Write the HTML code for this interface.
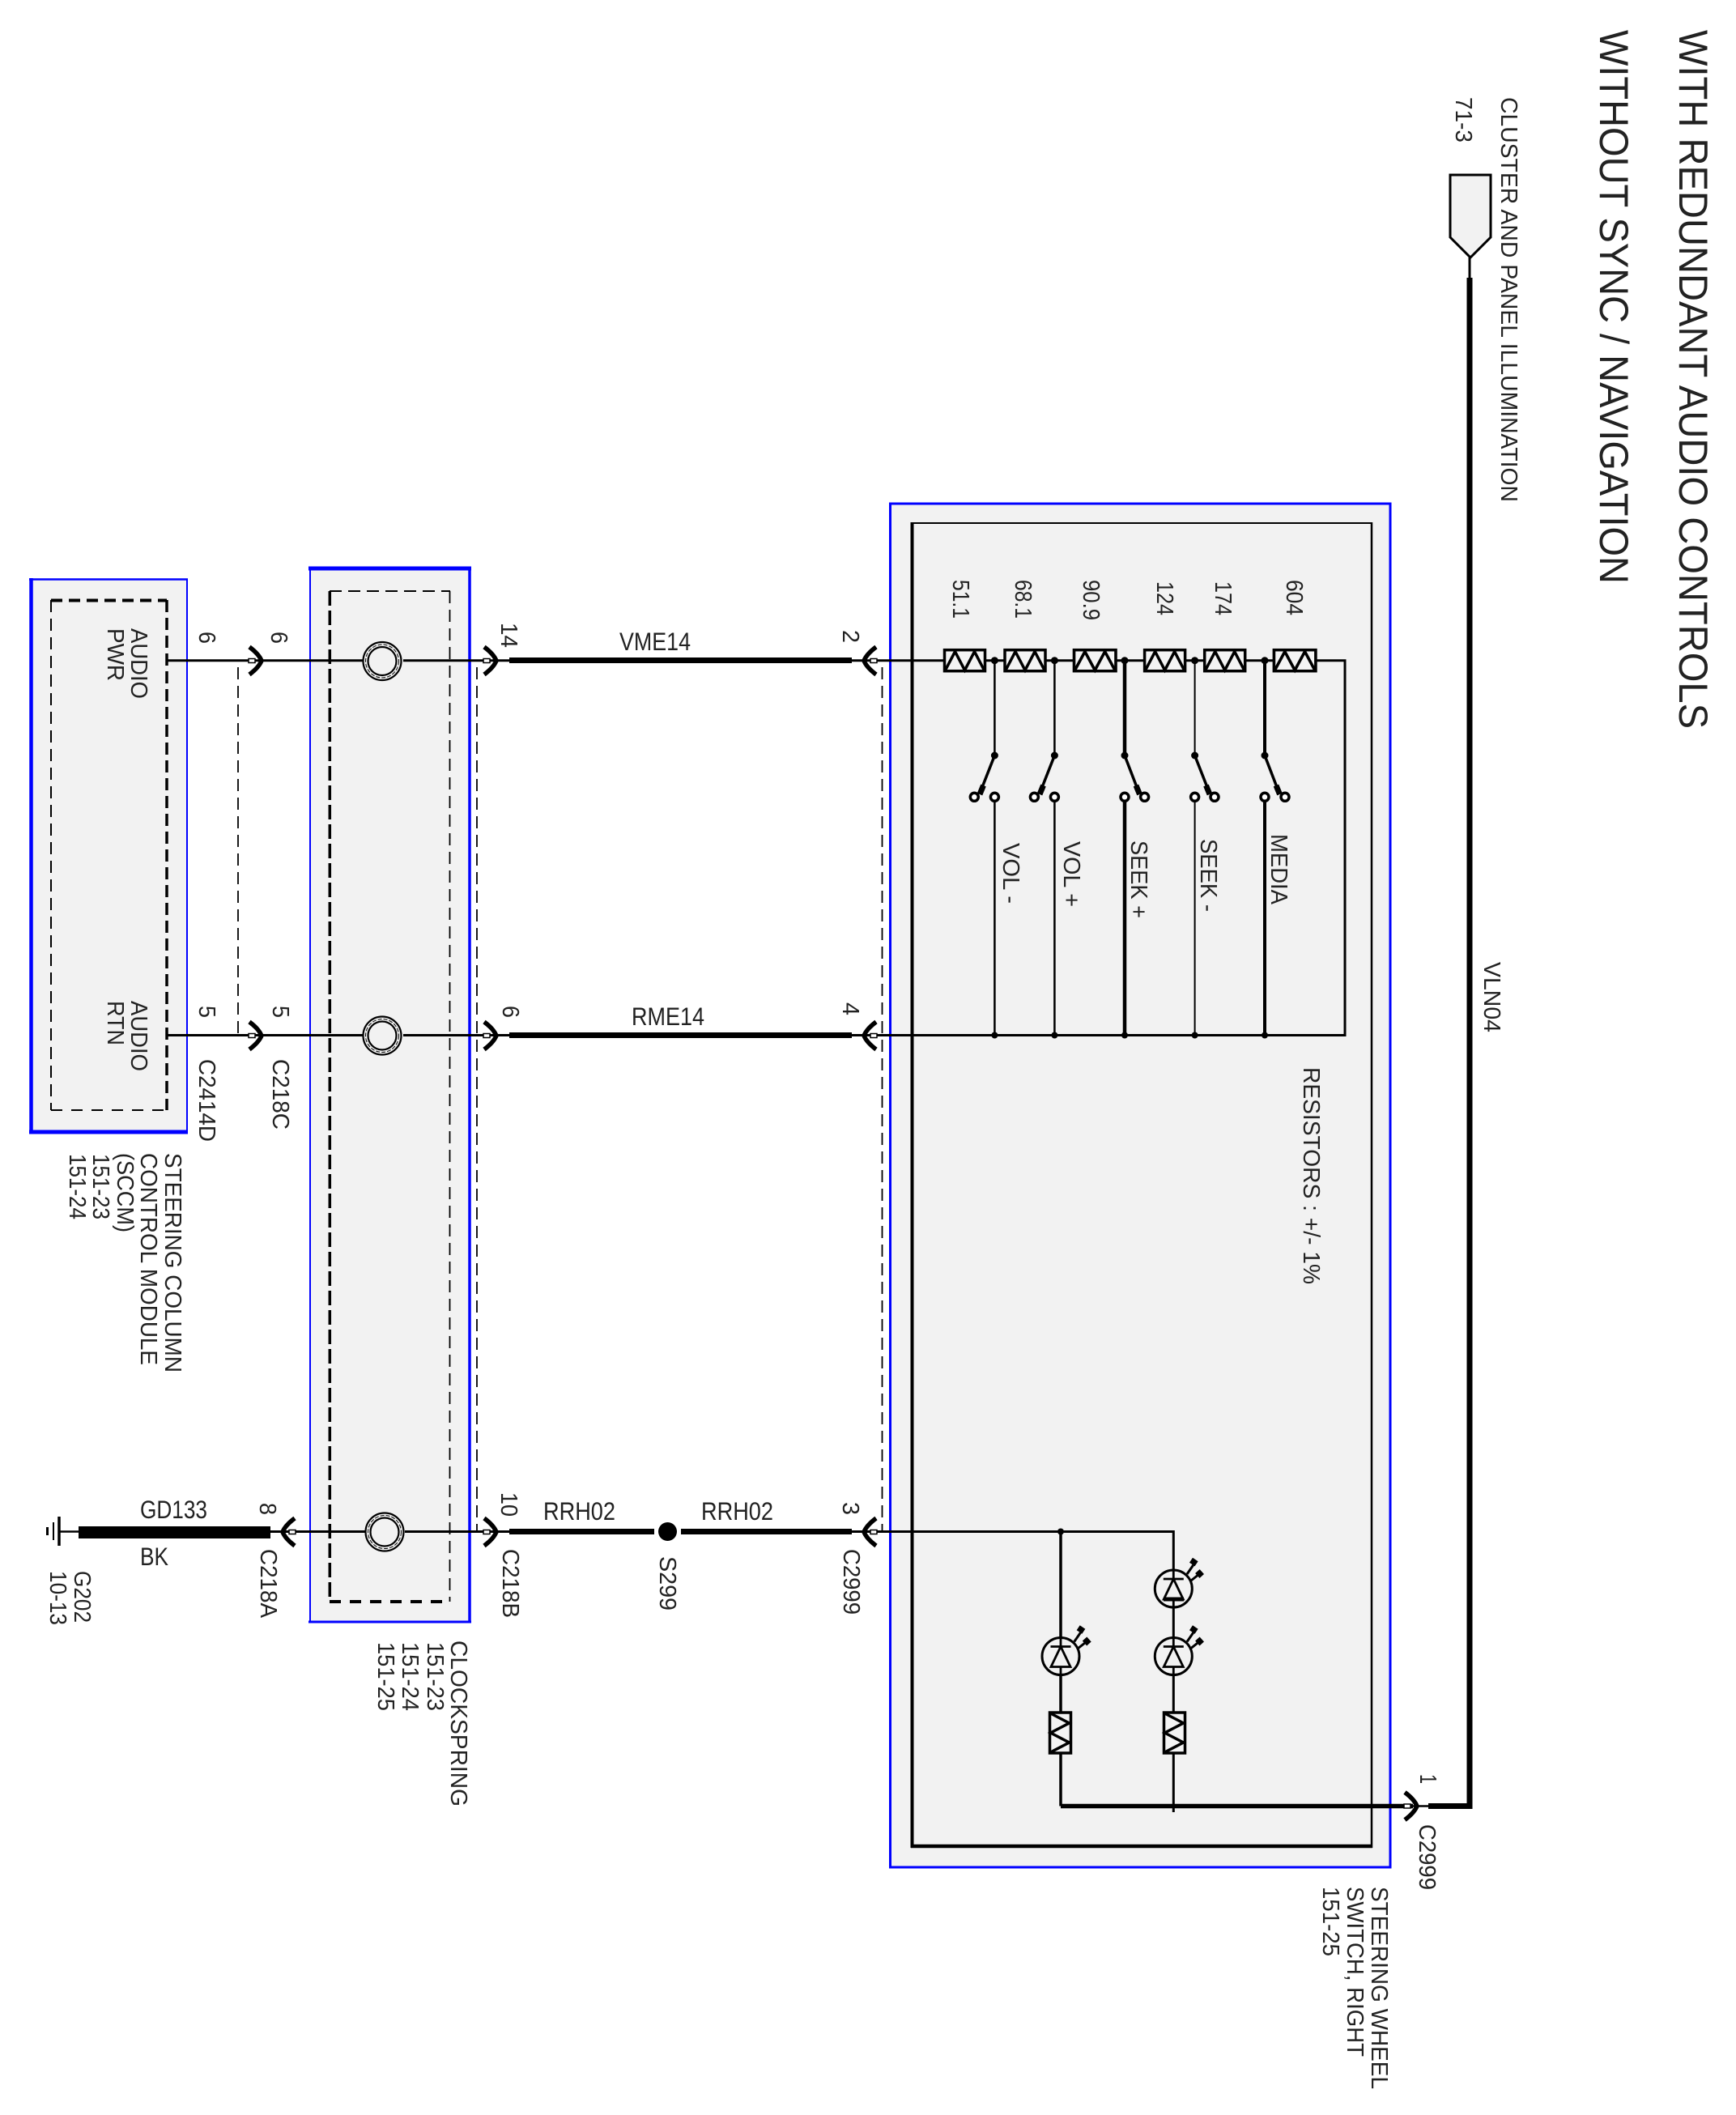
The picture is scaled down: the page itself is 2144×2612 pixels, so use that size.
<!DOCTYPE html>
<html><head><meta charset="utf-8"><style>
html,body{margin:0;padding:0;background:#fff}
svg{display:block}
text{font-family:"Liberation Sans",sans-serif;fill:#222;font-size:29px}
.lab{filter:blur(0.35px)}
.h text{font-size:31.5px}
</style></head><body>
<svg width="2144" height="2612" viewBox="0 0 2144 2612" xmlns="http://www.w3.org/2000/svg">
<defs>
<g id="res"><rect x="0" y="-13" width="50" height="26" fill="#f4f4f4" stroke="#000" stroke-width="3.5"/><path d="M1,12 L13,-11 L25,12 L37,-11 L49,12" fill="none" stroke="#000" stroke-width="3.5"/></g>
<g id="arr"><path d="M-15,-17 C-7,-11 -2,-5 0,0 C-2,5 -7,11 -15,17" fill="none" stroke="#000" stroke-width="5.5"/><rect x="-16" y="-2.5" width="8" height="5" fill="#fff" stroke="#000" stroke-width="1.5"/></g>
<g id="ring"><circle r="23.5" fill="#f2f2f2" stroke="#000" stroke-width="2.2"/><circle r="20.5" fill="none" stroke="#000" stroke-width="1" stroke-dasharray="5 2"/><circle r="17.5" fill="#f2f2f2" stroke="#000" stroke-width="2.2"/></g>
<g id="led"><circle r="23" fill="#f2f2f2" stroke="#000" stroke-width="3"/><path d="M0,-23 V-12 M-12.5,-12 H12.5 M0,-12 L-12,13 H12 Z M0,13 V23" fill="none" stroke="#000" stroke-width="2.8"/><path d="M16.7,-18 L25,-30 M21.7,-10 L31.7,-18" stroke="#000" stroke-width="3" fill="none"/><path d="M23,-30 L27,-36 M29.5,-16 L35,-21" stroke="#000" stroke-width="8" fill="none"/></g>
</defs>

<!-- boxes -->
<rect x="38" y="716" width="193" height="682" fill="#f2f2f2"/>
<g stroke="#00f" fill="none">
<path d="M38.5,714 V1400" stroke-width="4.5"/><path d="M36,1398 H232" stroke-width="5"/><path d="M36,715.5 H232" stroke-width="2.5"/><path d="M231,715 V1400" stroke-width="2"/>
</g>
<rect x="383" y="701" width="197" height="1302" fill="#f2f2f2"/>
<g stroke="#00f" fill="none">
<path d="M383,700 V2004" stroke-width="2"/><path d="M381,702 H582" stroke-width="5"/><path d="M580,700 V2004" stroke-width="3.5"/><path d="M381,2003 H582" stroke-width="3"/>
</g>
<rect x="1099.5" y="622" width="617.5" height="1684" fill="#f2f2f2" stroke="#00f" stroke-width="3"/>
<g stroke="#000" fill="none">
<path d="M1126.5,645 V2282" stroke-width="4"/><path d="M1125,2280 H1695" stroke-width="4.5"/><path d="M1125,646 H1695" stroke-width="2"/><path d="M1694,645 V2282" stroke-width="2.5"/>
</g>

<!-- dashed -->
<g stroke="#000" fill="none">
<path d="M63,741 V1371" stroke-width="2" stroke-dasharray="15 8"/>
<path d="M63,741.5 H206" stroke-width="4" stroke-dasharray="14 8"/>
<path d="M206,741 V1371" stroke-width="3.5" stroke-dasharray="15 7"/>
<path d="M63,1371 H206" stroke-width="2" stroke-dasharray="14 11"/>
<path d="M407,730 H556" stroke-width="2" stroke-dasharray="15 8"/>
<path d="M407.3,730 V1978" stroke-width="3.5" stroke-dasharray="18 6"/>
<path d="M555.5,730 V1978" stroke-width="1.8" stroke-dasharray="15 8"/>
<path d="M407,1978 H556" stroke-width="4" stroke-dasharray="14 11"/>
<path d="M294,824 V1278" stroke-width="1.8" stroke-dasharray="15 8"/>
<path d="M589,824 V1891" stroke-width="1.8" stroke-dasharray="15 8"/>
<path d="M1089.5,824 V1891" stroke-width="1.8" stroke-dasharray="15 8"/>
</g>

<!-- wires -->
<g stroke="#000" fill="none">
<path d="M206,815.7 H448 M498,815.7 H629" stroke-width="3"/>
<path d="M206,1278.5 H448 M498,1278.5 H629" stroke-width="3"/>
<path d="M334,1891.5 H451 M500,1891.5 H629" stroke-width="3"/>
<path d="M629,815.5 H1052 M629,1278.5 H1052 M629,1891.5 H808 M841,1891.5 H1052" stroke-width="7"/>
<path d="M97,1892.5 H334" stroke-width="15"/>
<path d="M73,1891.5 H97" stroke-width="2.5"/>
<path d="M73,1873 V1909" stroke-width="3.5"/><path d="M66,1880 V1902" stroke-width="2"/><path d="M58.5,1886 V1896" stroke-width="3"/>
<path d="M1052,815.7 H1166 M1217,815.7 H1241 M1291,815.7 H1326 M1378,815.7 H1414 M1464,815.7 H1488 M1538,815.7 H1573 M1625,815.7 H1661 V1278.5 H1052" stroke-width="3"/>
<path d="M1052,1891.5 H1449.3 V2238" stroke-width="3"/>
<path d="M1310,1891.5 V2230.5" stroke-width="3.5"/>
<path d="M1310,2230.5 H1745" stroke-width="5.5"/>
<path d="M1764,2230.5 H1815 V343" stroke-width="7"/>
<path d="M1745,2230.5 H1764" stroke-width="2.5"/>
<path d="M1815,318 V343" stroke-width="3"/>
<path d="M1228.4,815 V932 M1228.4,984 V1278" stroke-width="2.5"/>
<path d="M1302.4,815 V932 M1302.4,984 V1278" stroke-width="2.5"/>
<path d="M1389,815 V932 M1389,984 V1278" stroke-width="4.5"/>
<path d="M1475.6,815 V932 M1475.6,984 V1278" stroke-width="2"/>
<path d="M1562,815 V932 M1562,984 V1278" stroke-width="4"/>
<!-- blades -->
<path d="M1228.4,933 L1210,980 M1302.4,933 L1284,980 M1389,933 L1407,980 M1475.6,933 L1494,980 M1562,933 L1580,980" stroke-width="3.5"/>
<path d="M1214.5,970 L1210,981 M1288.5,970 L1284,981 M1403,970 L1407.5,981 M1489.5,970 L1494,981 M1576,970 L1580.5,981" stroke-width="7"/>
</g>
<g fill="#000">
<circle cx="1228.4" cy="815.7" r="4.5"/><circle cx="1302.4" cy="815.7" r="4.5"/><circle cx="1389" cy="815.7" r="4.5"/><circle cx="1475.6" cy="815.7" r="4.5"/><circle cx="1562" cy="815.7" r="4.5"/>
<circle cx="1228.4" cy="1278.5" r="4"/><circle cx="1302.4" cy="1278.5" r="4"/><circle cx="1389" cy="1278.5" r="4"/><circle cx="1475.6" cy="1278.5" r="4"/><circle cx="1562" cy="1278.5" r="4"/>
<circle cx="1228.4" cy="933" r="4.5"/><circle cx="1302.4" cy="933" r="4.5"/><circle cx="1389" cy="933" r="4.5"/><circle cx="1475.6" cy="933" r="4.5"/><circle cx="1562" cy="933" r="4.5"/>
<circle cx="1310" cy="1891.5" r="4"/>
<circle cx="824.5" cy="1891.5" r="11.5"/>
</g>
<g fill="#fff" stroke="#000" stroke-width="3.5">
<circle cx="1203.3" cy="984.3" r="5"/><circle cx="1228.4" cy="984.3" r="5"/>
<circle cx="1277.4" cy="984.3" r="5"/><circle cx="1302.4" cy="984.3" r="5"/>
<circle cx="1389" cy="984.3" r="5"/><circle cx="1413.6" cy="984.3" r="5"/>
<circle cx="1475.6" cy="984.3" r="5"/><circle cx="1500" cy="984.3" r="5"/>
<circle cx="1562" cy="984.3" r="5"/><circle cx="1587" cy="984.3" r="5"/>
</g>

<!-- connector pentagon -->
<path d="M1791,216 H1841 V293 L1816,318 L1791,293 Z" fill="#f2f2f2" stroke="#000" stroke-width="3"/>

<!-- resistors -->
<use href="#res" transform="translate(1166.5,815.7)"/>
<use href="#res" transform="translate(1241,815.7)"/>
<use href="#res" transform="translate(1326.5,815.7) scale(1.03,1)"/>
<use href="#res" transform="translate(1413.6,815.7)"/>
<use href="#res" transform="translate(1487.7,815.7)"/>
<use href="#res" transform="translate(1573.4,815.7) scale(1.03,1)"/>
<use href="#res" transform="translate(1309.5,2115) rotate(90)"/>
<use href="#res" transform="translate(1450.5,2115) rotate(90)"/>

<!-- LEDs -->
<use href="#led" transform="translate(1310,2045.5)"/>
<use href="#led" transform="translate(1449.3,2045.5)"/>
<use href="#led" transform="translate(1449.3,1962)"/>
<path d="M1437,1975 H1462" stroke="#000" stroke-width="5"/>

<!-- rings -->
<use href="#ring" transform="translate(472,816.5)"/>
<use href="#ring" transform="translate(472,1279)"/>
<use href="#ring" transform="translate(475,1892)"/>

<!-- arrows -->
<use href="#arr" transform="translate(323,816)"/>
<use href="#arr" transform="translate(323,1279)"/>
<use href="#arr" transform="translate(613,816)"/>
<use href="#arr" transform="translate(613,1279)"/>
<use href="#arr" transform="translate(613,1892)"/>
<use href="#arr" transform="translate(349,1892) scale(-1,1)"/>
<use href="#arr" transform="translate(1067,816) scale(-1,1)"/>
<use href="#arr" transform="translate(1067,1279) scale(-1,1)"/>
<use href="#arr" transform="translate(1067,1892) scale(-1,1)"/>
<use href="#arr" transform="translate(1750,2230.5)"/>

<!-- horizontal labels -->
<g class="lab h">
<text x="765" y="803" textLength="88" lengthAdjust="spacingAndGlyphs">VME14</text>
<text x="780" y="1266" textLength="90" lengthAdjust="spacingAndGlyphs">RME14</text>
<text x="671" y="1877" textLength="89" lengthAdjust="spacingAndGlyphs">RRH02</text>
<text x="866" y="1877" textLength="89" lengthAdjust="spacingAndGlyphs">RRH02</text>
<text x="173" y="1875" textLength="83" lengthAdjust="spacingAndGlyphs">GD133</text>
<text x="173" y="1933" textLength="35" lengthAdjust="spacingAndGlyphs">BK</text>
</g>

<!-- rotated labels -->
<g class="lab">
<text transform="translate(2074,37) rotate(90)" style="font-size:50px" textLength="863" lengthAdjust="spacingAndGlyphs">WITH REDUNDANT AUDIO CONTROLS</text>
<text transform="translate(1976,37) rotate(90)" style="font-size:50px" textLength="684" lengthAdjust="spacingAndGlyphs">WITHOUT SYNC / NAVIGATION</text>
<text transform="translate(1854,120) rotate(90)" textLength="500" lengthAdjust="spacingAndGlyphs">CLUSTER AND PANEL ILLUMINATION</text>
<text transform="translate(1798,120) rotate(90)" textLength="56" lengthAdjust="spacingAndGlyphs">71-3</text>
<text transform="translate(1833,1188) rotate(90)" textLength="87" lengthAdjust="spacingAndGlyphs">VLN04</text>

<text transform="translate(162,776) rotate(90)" textLength="87" lengthAdjust="spacingAndGlyphs">AUDIO</text>
<text transform="translate(133,776) rotate(90)" textLength="65" lengthAdjust="spacingAndGlyphs">PWR</text>
<text transform="translate(162,1236) rotate(90)" textLength="87" lengthAdjust="spacingAndGlyphs">AUDIO</text>
<text transform="translate(133,1236) rotate(90)" textLength="55" lengthAdjust="spacingAndGlyphs">RTN</text>

<text transform="translate(246,780) rotate(90)" textLength="15" lengthAdjust="spacingAndGlyphs">6</text>
<text transform="translate(335,780) rotate(90)" textLength="15" lengthAdjust="spacingAndGlyphs">6</text>
<text transform="translate(619,769) rotate(90)" textLength="31" lengthAdjust="spacingAndGlyphs">14</text>
<text transform="translate(246,1242) rotate(90)" textLength="15" lengthAdjust="spacingAndGlyphs">5</text>
<text transform="translate(337,1242) rotate(90)" textLength="15" lengthAdjust="spacingAndGlyphs">5</text>
<text transform="translate(621,1242) rotate(90)" textLength="15" lengthAdjust="spacingAndGlyphs">6</text>
<text transform="translate(1041,778) rotate(90)" textLength="16" lengthAdjust="spacingAndGlyphs">2</text>
<text transform="translate(1041,1238) rotate(90)" textLength="16" lengthAdjust="spacingAndGlyphs">4</text>
<text transform="translate(1041,1855) rotate(90)" textLength="16" lengthAdjust="spacingAndGlyphs">3</text>
<text transform="translate(321,1856) rotate(90)" textLength="15" lengthAdjust="spacingAndGlyphs">8</text>
<text transform="translate(619,1843) rotate(90)" textLength="30" lengthAdjust="spacingAndGlyphs">10</text>
<text transform="translate(1754,2191) rotate(90)" textLength="12" lengthAdjust="spacingAndGlyphs">1</text>

<text transform="translate(246,1308) rotate(90)" textLength="102" lengthAdjust="spacingAndGlyphs">C2414D</text>
<text transform="translate(337,1308) rotate(90)" textLength="87" lengthAdjust="spacingAndGlyphs">C218C</text>
<text transform="translate(322,1913) rotate(90)" textLength="85" lengthAdjust="spacingAndGlyphs">C218A</text>
<text transform="translate(621,1913) rotate(90)" textLength="85" lengthAdjust="spacingAndGlyphs">C218B</text>
<text transform="translate(1042,1913) rotate(90)" textLength="81" lengthAdjust="spacingAndGlyphs">C2999</text>
<text transform="translate(1753,2253) rotate(90)" textLength="81" lengthAdjust="spacingAndGlyphs">C2999</text>
<text transform="translate(815,1922) rotate(90)" textLength="67" lengthAdjust="spacingAndGlyphs">S299</text>
<text transform="translate(92,1940) rotate(90)" textLength="64" lengthAdjust="spacingAndGlyphs">G202</text>
<text transform="translate(62,1940) rotate(90)" textLength="67" lengthAdjust="spacingAndGlyphs">10-13</text>

<text transform="translate(204,1424) rotate(90)" textLength="271" lengthAdjust="spacingAndGlyphs">STEERING COLUMN</text>
<text transform="translate(174,1424) rotate(90)" textLength="262" lengthAdjust="spacingAndGlyphs">CONTROL MODULE</text>
<text transform="translate(145,1424) rotate(90)" textLength="98" lengthAdjust="spacingAndGlyphs">(SCCM)</text>
<text transform="translate(115,1425) rotate(90)" textLength="81" lengthAdjust="spacingAndGlyphs">151-23</text>
<text transform="translate(86,1425) rotate(90)" textLength="81" lengthAdjust="spacingAndGlyphs">151-24</text>

<text transform="translate(557,2026) rotate(90)" textLength="205" lengthAdjust="spacingAndGlyphs">CLOCKSPRING</text>
<text transform="translate(528,2028) rotate(90)" textLength="85" lengthAdjust="spacingAndGlyphs">151-23</text>
<text transform="translate(497,2028) rotate(90)" textLength="85" lengthAdjust="spacingAndGlyphs">151-24</text>
<text transform="translate(467,2028) rotate(90)" textLength="85" lengthAdjust="spacingAndGlyphs">151-25</text>

<text transform="translate(1177,716) rotate(90)" textLength="48" lengthAdjust="spacingAndGlyphs">51.1</text>
<text transform="translate(1254,716) rotate(90)" textLength="48" lengthAdjust="spacingAndGlyphs">68.1</text>
<text transform="translate(1338,716) rotate(90)" textLength="50" lengthAdjust="spacingAndGlyphs">90.9</text>
<text transform="translate(1429,718) rotate(90)" textLength="42" lengthAdjust="spacingAndGlyphs">124</text>
<text transform="translate(1501,718) rotate(90)" textLength="42" lengthAdjust="spacingAndGlyphs">174</text>
<text transform="translate(1589,716) rotate(90)" textLength="44" lengthAdjust="spacingAndGlyphs">604</text>

<text transform="translate(1239,1041) rotate(90)" textLength="75" lengthAdjust="spacingAndGlyphs">VOL -</text>
<text transform="translate(1314,1039) rotate(90)" textLength="81" lengthAdjust="spacingAndGlyphs">VOL +</text>
<text transform="translate(1397,1038) rotate(90)" textLength="96" lengthAdjust="spacingAndGlyphs">SEEK +</text>
<text transform="translate(1483,1036) rotate(90)" textLength="90" lengthAdjust="spacingAndGlyphs">SEEK -</text>
<text transform="translate(1570,1030) rotate(90)" textLength="87" lengthAdjust="spacingAndGlyphs">MEDIA</text>
<text transform="translate(1610,1318) rotate(90)" textLength="268" lengthAdjust="spacingAndGlyphs">RESISTORS : +/- 1%</text>

<text transform="translate(1694,2330) rotate(90)" textLength="250" lengthAdjust="spacingAndGlyphs">STEERING WHEEL</text>
<text transform="translate(1664,2330) rotate(90)" textLength="210" lengthAdjust="spacingAndGlyphs">SWITCH, RIGHT</text>
<text transform="translate(1634,2330) rotate(90)" textLength="86" lengthAdjust="spacingAndGlyphs">151-25</text>
</g>
</svg>
</body></html>
